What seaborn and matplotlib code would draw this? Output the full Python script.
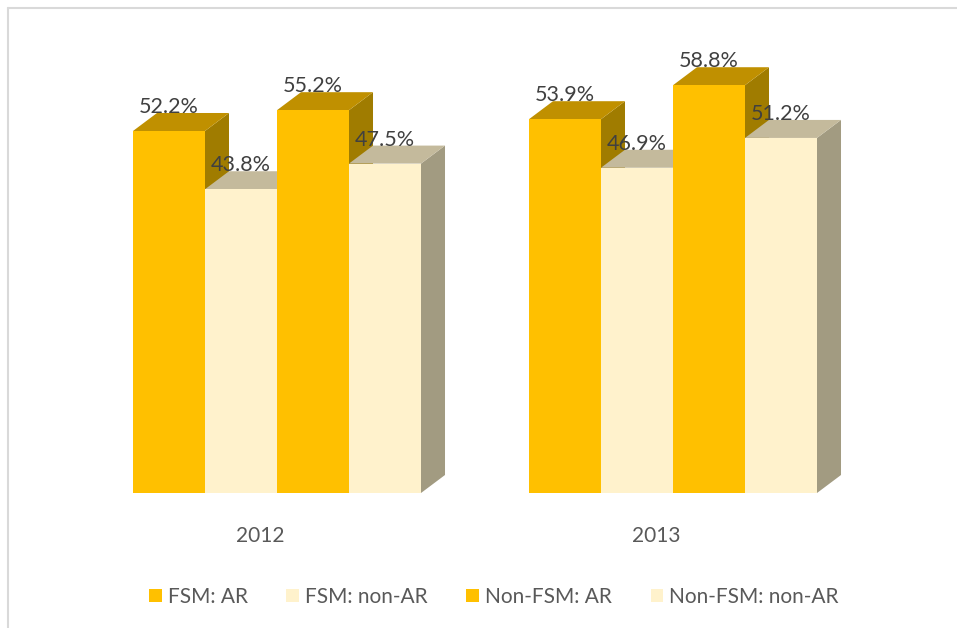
import numpy as np
import pandas as pd
import matplotlib
matplotlib.use("Agg")
import matplotlib.pyplot as plt
import seaborn as sns
from matplotlib.patches import Polygon
from matplotlib.lines import Line2D
from matplotlib.transforms import ScaledTranslation

# ---- data ----
years = ["2012", "2013"]
series = ["FSM: AR", "FSM: non-AR", "Non-FSM: AR", "Non-FSM: non-AR"]
fsm_ar = [52.2, 53.9]
fsm_non_ar = [43.8, 46.9]
non_fsm_ar = [55.2, 58.8]
non_fsm_non_ar = [47.5, 51.2]

values = [fsm_ar, fsm_non_ar, non_fsm_ar, non_fsm_non_ar]
rows = []
for s, vals in zip(series, values):
    for y, v in zip(years, vals):
        rows.append({"year": y, "series": s, "value": v})
df = pd.DataFrame(rows)

ORANGE = "#FFC000"
CREAM = "#FFF2CC"
palette = {series[0]: ORANGE, series[1]: CREAM, series[2]: ORANGE, series[3]: CREAM}
shade = {ORANGE: ("#C09000", "#A07C00"), CREAM: ("#C4BA9C", "#A29B81")}

sns.set_theme(style="white")
plt.rcParams["font.family"] = ["Lato", "DejaVu Sans"]

W, H = 957, 628
fig = plt.figure(figsize=(W / 100, H / 100), dpi=100)
fig.patch.set_facecolor("white")
base_px = 493
top_px = 20
ax = fig.add_axes([20 / W, (H - base_px) / H, 920 / W, (base_px - top_px) / H])

sns.barplot(data=df, x="year", y="value", hue="series", hue_order=series,
            order=years, palette=palette, width=0.7273, saturation=1,
            edgecolor="none", linewidth=0, errorbar=None, ax=ax)

px_per_x = 396.0
px_per_y = 6.935
x0 = (20 - 277) / px_per_x
x1 = (940 - 277) / px_per_x
ax.set_xlim(x0, x1)
ax.set_ylim(0, (base_px - top_px) / px_per_y)

dx = 24 / px_per_x
dy = 18 / px_per_y

bars = []
for cont in ax.containers:
    for p in cont.patches:
        bars.append(p)
bars.sort(key=lambda p: p.get_x())

for i, p in enumerate(bars):
    l = p.get_x()
    r = l + p.get_width()
    h = p.get_height()
    fc = matplotlib.colors.to_hex(p.get_facecolor()).upper()
    top_c, side_c = shade.get(fc, ("#C09000", "#A07C00"))
    z = 2 + 3 * i
    side = Polygon([(r, 0), (r + dx, dy), (r + dx, h + dy), (r, h)],
                   closed=True, facecolor=side_c, edgecolor="none", zorder=z)
    top = Polygon([(l, h), (l + dx, h + dy), (r + dx, h + dy), (r, h)],
                  closed=True, facecolor=top_c, edgecolor="none", zorder=z + 1)
    ax.add_patch(side)
    ax.add_patch(top)
    p.set_zorder(z + 2)
    ax.text(l + p.get_width() / 2, h + dy, f"{h:.1f}%", ha="center",
            va="baseline", fontsize=15.5, color="#404040", zorder=100)

ax.set_xlabel("")
ax.set_ylabel("")
ax.set_yticks([])
ax.tick_params(axis="x", length=0, pad=24, labelsize=15, labelcolor="#595959")
shift = ScaledTranslation(-17 / 100, 0, fig.dpi_scale_trans)
for lab in ax.get_xticklabels():
    lab.set_transform(lab.get_transform() + shift)
for s in ax.spines.values():
    s.set_visible(False)
ax.set_facecolor("none")

handles, labels = ax.get_legend_handles_labels()
if ax.get_legend() is not None:
    ax.get_legend().remove()
fig.legend(handles, labels, loc="center", bbox_to_anchor=(494 / W, 1 - 597 / H),
           ncol=4, frameon=False, fontsize=15, handlelength=0.6, handleheight=0.6,
           handletextpad=0.3, columnspacing=1.85, labelcolor="#595959")

# chart border (top and left edges)
fig.add_artist(Line2D([8 / W, 8 / W], [0, 1 - 8 / H], transform=fig.transFigure,
                      color="#D9D9D9", lw=1.5))
fig.add_artist(Line2D([8 / W, 1], [1 - 8 / H, 1 - 8 / H], transform=fig.transFigure,
                      color="#D9D9D9", lw=1.5))

fig.savefig("out.png", dpi=100, facecolor="white")
